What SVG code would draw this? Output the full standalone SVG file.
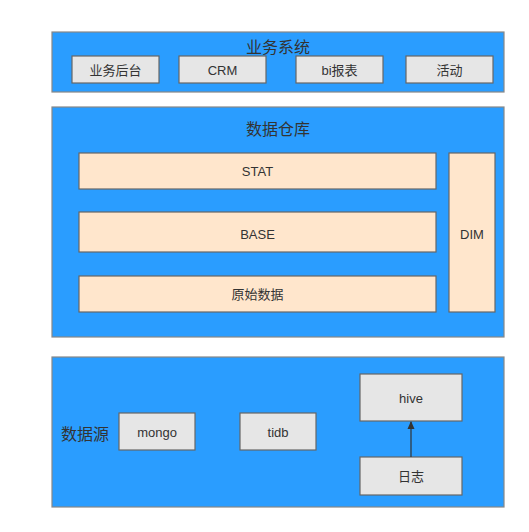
<svg xmlns="http://www.w3.org/2000/svg" width="529" height="532" viewBox="0 0 529 532">
<style>
.panel{fill:#2a9dff;stroke:#888;stroke-width:1.2}
.gray{fill:#e6e6e6;stroke:#666;stroke-width:1.2}
.beige{fill:#ffe6cc;stroke:#666;stroke-width:1.2}
text{font-family:"Liberation Sans","Noto Sans CJK SC",sans-serif;fill:#333;text-anchor:middle}
.t{font-size:16px}
.s{font-size:13px}
</style>
<defs>
<marker id="ah" markerWidth="8" markerHeight="10" refX="7" refY="4" orient="auto" markerUnits="userSpaceOnUse"><path d="M0,0.5 L8,4 L0,7.5 Z" fill="#333"/></marker>
</defs>
<rect width="529" height="532" fill="#fff"/>
<g id="biz">
<rect class="panel" x="52" y="32" width="452" height="60"/>
<text class="t" x="278" y="53">业务系统</text>
</g>
<g id="n-houtai"><rect class="gray" x="72" y="56" width="87" height="27"/><text class="s" x="115.5" y="75">业务后台</text></g>
<g id="n-crm"><rect class="gray" x="179" y="56" width="87" height="27"/><text class="s" x="222.5" y="75">CRM</text></g>
<g id="n-bi"><rect class="gray" x="296" y="56" width="87" height="27"/><text class="s" x="339.5" y="75">bi报表</text></g>
<g id="n-huodong"><rect class="gray" x="406" y="56" width="87" height="27"/><text class="s" x="449.5" y="75">活动</text></g>
<g id="dw">
<rect class="panel" x="52" y="107" width="452" height="230"/>
<text class="t" x="278" y="135">数据仓库</text>
</g>
<g id="n-stat"><rect class="beige" x="79" y="153" width="357" height="36"/><text class="s" x="257.5" y="176">STAT</text></g>
<g id="n-base"><rect class="beige" x="79" y="212" width="357" height="40"/><text class="s" x="257.5" y="239">BASE</text></g>
<g id="n-raw"><rect class="beige" x="79" y="276" width="357" height="36"/><text class="s" x="257.5" y="299">原始数据</text></g>
<g id="n-dim"><rect class="beige" x="449" y="153" width="46" height="159"/><text class="s" x="472" y="239">DIM</text></g>
<g id="src">
<rect class="panel" x="52" y="357" width="452" height="150"/>
<text class="t" x="85" y="440">数据源</text>
</g>
<g id="n-mongo"><rect class="gray" x="119" y="413" width="76" height="37"/><text class="s" x="157" y="437">mongo</text></g>
<g id="n-tidb"><rect class="gray" x="240" y="413" width="76" height="37"/><text class="s" x="278" y="437">tidb</text></g>
<g id="n-hive"><rect class="gray" x="360" y="374" width="102" height="47"/><text class="s" x="411" y="403">hive</text></g>
<g id="n-log"><rect class="gray" x="360" y="457" width="102" height="38"/><text class="s" x="411" y="481">日志</text></g>
<g id="connectors">
<line x1="411" y1="457" x2="411" y2="422" stroke="#333" stroke-width="1.2" marker-end="url(#ah)"/>
</g>
</svg>
